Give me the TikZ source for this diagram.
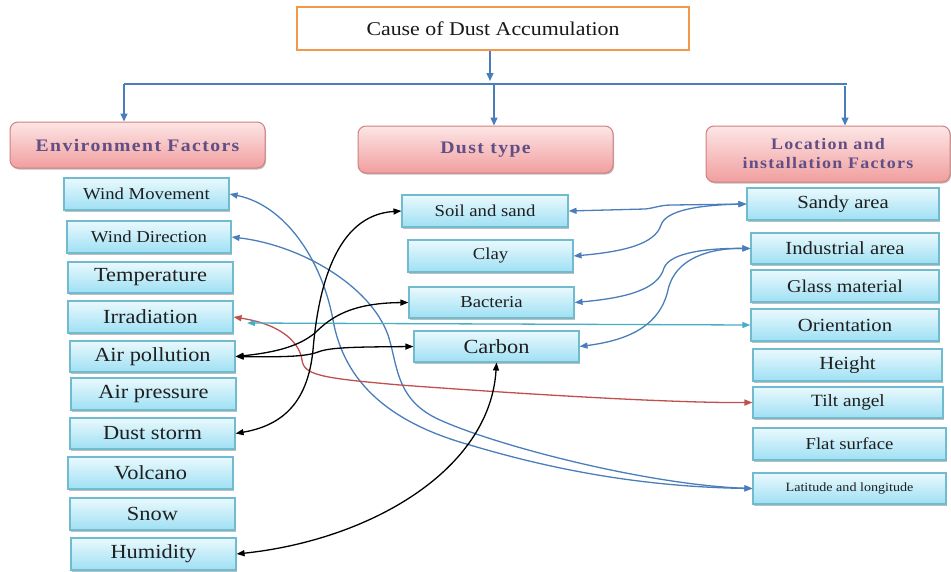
\documentclass[tikz,border=0pt]{standalone}
\usepackage{fontspec}
\setmainfont{Liberation Serif}[FakeStretch=1.12]
\newfontfamily\hdrfont{Liberation Serif}[FakeStretch=1.12,LetterSpace=8]
\usetikzlibrary{arrows.meta,shadows,calc}
\definecolor{cboxtop}{RGB}{234,249,253}
\definecolor{cboxbot}{RGB}{158,224,244}
\definecolor{cboxline}{RGB}{112,188,206}
\definecolor{hdrtop}{RGB}{253,230,230}
\definecolor{hdrbot}{RGB}{241,158,158}
\definecolor{hdrline}{RGB}{208,128,128}
\definecolor{hdrtext}{RGB}{96,78,132}
\definecolor{orangeline}{RGB}{242,152,72}
\definecolor{conblue}{RGB}{74,126,187}
\definecolor{conteal}{RGB}{75,172,198}
\definecolor{conred}{RGB}{192,80,77}
\begin{document}
\begin{tikzpicture}[x=1pt,y=-1pt,
  shad/.style={drop shadow={shadow xshift=1pt,shadow yshift=-1.5pt,opacity=0.25,fill=black}},
  cbox/.style={draw=cboxline, line width=1.1pt, top color=cboxtop, bottom color=cboxbot,
    inner sep=0pt, text=black!88, shad},
  hdr/.style={draw=hdrline, line width=1pt, rounded corners=8pt, top color=hdrtop,
    bottom color=hdrbot, inner sep=0pt, text=hdrtext, align=center, shad},
  fa/.style={font=\fontsize{20}{24}\selectfont},
  fb/.style={font=\fontsize{16.7}{20}\selectfont},
  fc/.style={font=\fontsize{18.5}{22}\selectfont},
  topc/.style={draw=conblue, line width=1.5pt},
  topa/.style={topc, -{Triangle[length=8pt,width=7pt]}},
  con/.style={line width=1.3pt, <->, >={Triangle[length=8pt,width=6pt]}},
  bcon/.style={con, draw=conblue},
  kcon/.style={con, draw=black},
  rcon/.style={con, draw=conred},
  tcon/.style={con, draw=conteal}
]
\useasboundingbox (0,0) rectangle (951,571);

% title
\node[draw=orangeline, line width=2.6pt, fill=white, minimum width=392pt, minimum height=43pt,
  inner sep=0pt, font=\fontsize{19.5}{23}\selectfont, text=black!90] (top) at (493,28.5) {Cause of Dust Accumulation};

% headers
\node[hdr, minimum width=255pt, minimum height=46pt, font=\hdrfont\bfseries\fontsize{17.6}{20}\selectfont] (env) at (137.5,145) {Environment Factors};
\node[hdr, minimum width=255pt, minimum height=47pt, font=\hdrfont\bfseries\fontsize{17.6}{20}\selectfont] (dt) at (485.5,149.5) {Dust type};
\node[hdr, minimum width=244pt, minimum height=56pt, font=\hdrfont\bfseries\fontsize{16}{19}\selectfont] (loc) at (828,154) {Location and\\installation Factors};

% top connectors
\coordinate (hl) at (124,84);
\coordinate (hm) at (494,84);
\coordinate (hr) at (847,84);
\coordinate (hr2) at (845,86);
\draw[topa] (top.south -| 490,0) -- (490,81);
\draw[topc] (hl) -- (hr);
\draw[topa] (hl) -- (hl |- env.north);
\draw[topa] (hm) -- (hm |- dt.north);
\draw[topa] (hr2) -- (hr2 |- loc.north);

% left column
\node[cbox, fb, minimum width=165pt, minimum height=32pt] (wm) at (146.5,194) {Wind Movement};
\node[cbox, fb, minimum width=164pt, minimum height=32pt] (wd) at (149,237) {Wind Direction};
\node[cbox, fa, minimum width=165pt, minimum height=31pt] (temp) at (150.5,277.5) {Temperature};
\node[cbox, fa, minimum width=165pt, minimum height=32pt] (irr) at (150.5,317) {Irradiation};
\node[cbox, fa, minimum width=165pt, minimum height=31pt] (ap) at (152.5,356.5) {Air pollution};
\node[cbox, fa, minimum width=165pt, minimum height=32pt] (apr) at (153.5,394) {Air pressure};
\node[cbox, fa, minimum width=165pt, minimum height=31pt] (ds) at (152.5,433.5) {Dust storm};
\node[cbox, fa, minimum width=165pt, minimum height=32pt] (vol) at (150.5,473) {Volcano};
\node[cbox, fa, minimum width=165pt, minimum height=32pt] (snow) at (152.5,514) {Snow};
\node[cbox, fa, minimum width=165pt, minimum height=32pt] (hum) at (153.5,554) {Humidity};

% middle column
\node[cbox, fb, minimum width=166pt, minimum height=32pt] (soil) at (485,211) {Soil and sand};
\node[cbox, fb, minimum width=165pt, minimum height=32pt] (clay) at (490.5,256) {Clay};
\node[cbox, fb, minimum width=165pt, minimum height=31pt] (bac) at (491.5,302.5) {Bacteria};
\node[cbox, fa, minimum width=165pt, minimum height=31pt] (car) at (496.5,346.5) {Carbon};

% right column
\node[cbox, fc, minimum width=192pt, minimum height=32pt] (sandy) at (843,204) {Sandy area};
\node[cbox, fc, minimum width=188pt, minimum height=31pt] (ind) at (845,248.5) {Industrial area};
\node[cbox, font=\fontsize{18}{22}\selectfont, minimum width=188pt, minimum height=32pt] (glass) at (845,286) {Glass material};
\node[cbox, fc, minimum width=188pt, minimum height=32pt] (ori) at (845,325) {Orientation};
\node[cbox, fc, minimum width=189pt, minimum height=32pt] (hgt) at (847.5,365) {Height};
\node[cbox, font=\fontsize{17.2}{21}\selectfont, minimum width=190pt, minimum height=31pt] (tilt) at (848,402.5) {Tilt angel};
\node[cbox, fb, minimum width=193pt, minimum height=32pt] (flat) at (849.5,444) {Flat surface};
\node[cbox, font=\fontsize{12.6}{15}\selectfont, minimum width=193pt, minimum height=31pt] (lat) at (849.5,488.5) {Latitude and longitude};

% blue: wind -> latitude
\draw[bcon] (wm.east) .. controls (285,205) and (322,260) .. (333,320)
  .. controls (343,375) and (380,420) .. (470,445)
  .. controls (560,472) and (650,487) .. (lat.west);
\draw[bcon] (wd.east) .. controls (300,245) and (370,285) .. (388,335)
  .. controls (398,365) and (395,400) .. (440,420)
  .. controls (500,447) and (650,485) .. (lat.west);

% red: irradiation <-> tilt
\draw[rcon] (irr.east) .. controls (285,325) and (300,345) .. (302,360)
  .. controls (304,375) and (320,378) .. (400,385)
  .. controls (550,396) and (680,403) .. (tilt.west);

% teal: irradiation <-> orientation
\coordinate (tl) at (247,323);
\draw[tcon] (tl) -- (ori.west);

% black connectors
\draw[kcon] (ds.east) .. controls (285,425) and (308,400) .. (313,350)
  .. controls (318,290) and (335,215) .. (soil.west);
\draw[kcon] (ap.east) .. controls (280,352) and (300,345) .. (315,333)
  .. controls (330,318) and (350,303) .. (bac.west);
\draw[kcon] (ap.east) .. controls (280,357) and (305,357) .. (318,352)
  .. controls (330,347) and (360,347) .. (car.west);
\draw[kcon] (hum.east) .. controls (370,540) and (490,470) .. (car.south);

% blue: right side
\draw[bcon] (soil.east) -- (645,209) .. controls (655,208) and (660,205) .. (672,205) -- (sandy.west);
\draw[bcon] (clay.east) .. controls (620,252) and (655,245) .. (661,225)
  .. controls (666,210) and (700,205) .. (sandy.west);
\draw[bcon] (bac.east) .. controls (625,298) and (658,290) .. (664,268)
  .. controls (670,252) and (710,248) .. (ind.west);
\draw[bcon] (car.east) .. controls (630,340) and (660,325) .. (668,290)
  .. controls (675,258) and (710,248) .. (ind.west);
\end{tikzpicture}
\end{document}
